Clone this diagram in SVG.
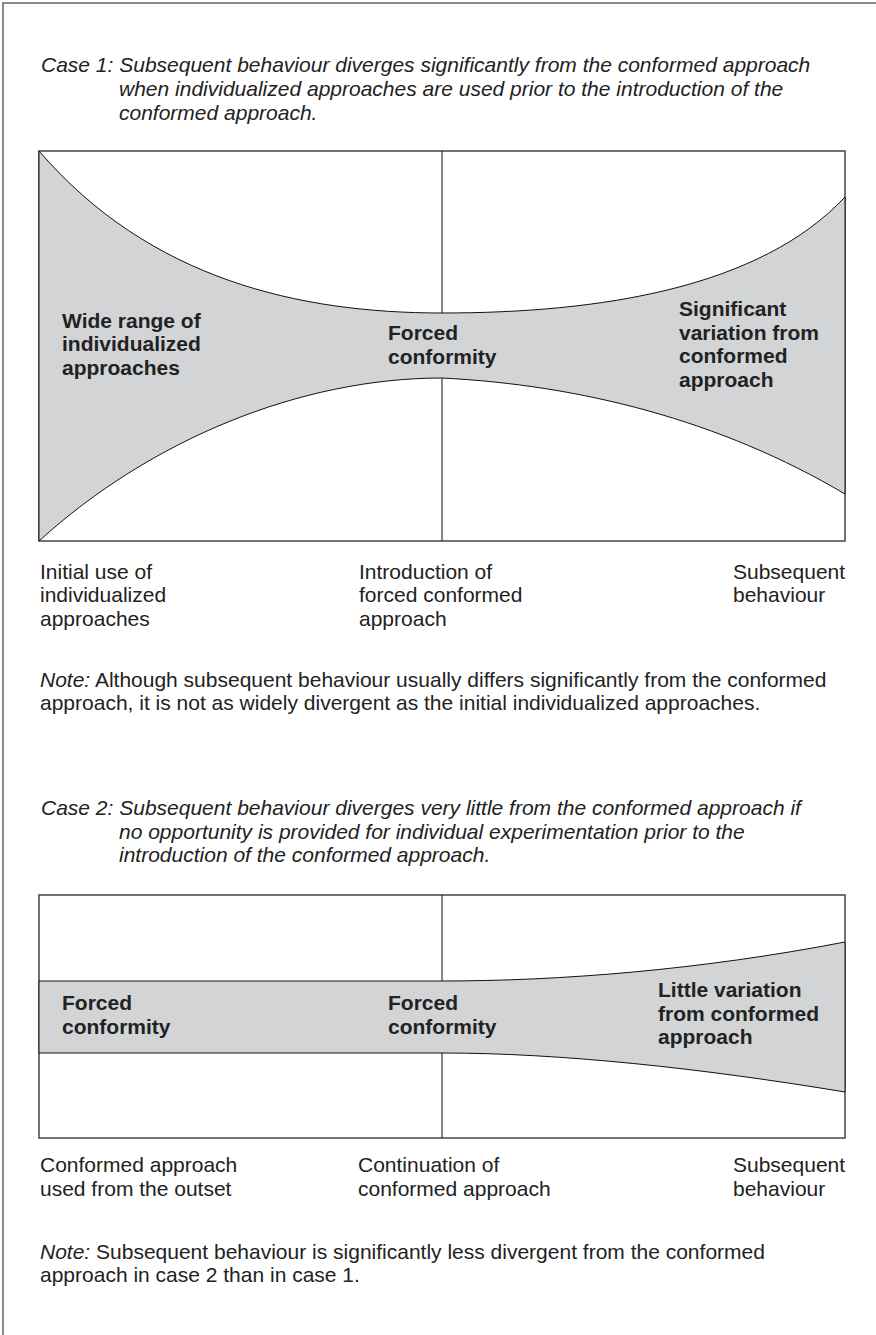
<svg xmlns="http://www.w3.org/2000/svg" width="876" height="1335" viewBox="0 0 876 1335">
<style>
.t{font-family:"Liberation Sans",Arial,Helvetica,sans-serif;font-size:21px;fill:#222}
.i{font-style:italic}
.b{font-weight:bold}
.frame{fill:#fff;stroke:#444;stroke-width:1.5}
.band{fill:#d3d4d6;stroke:#111;stroke-width:1}
.div{stroke:#111;stroke-width:1;fill:none}
.page{stroke:#666;stroke-width:1.5;fill:none}
</style>
<rect width="876" height="1335" fill="#fff"/>
<path class="page" d="M3,1335 L3,3 L876,3"/>

<g id="case1-title">
<text class="t i" x="41" y="72">Case 1: Subsequent behaviour diverges significantly from the conformed approach</text>
<text class="t i" x="119" y="96">when individualized approaches are used prior to the introduction of the</text>
<text class="t i" x="119" y="119.5">conformed approach.</text>
</g>

<g id="chart1">
<rect class="frame" x="39" y="151" width="806" height="390"/>
<g id="connectors1">
<line class="div" x1="442" y1="151" x2="442" y2="541"/>
</g>
<path class="band" d="M39,151 C150,280 300,313 442,313 C600,313 760,288 845,197 L845,494 C720,420 580,385 442,378 C300,378 150,440 39,541 Z"/>
<g id="c1-left"><text class="t b" x="62" y="327.5">Wide range of</text><text class="t b" x="62" y="351">individualized</text><text class="t b" x="62" y="374.5">approaches</text></g>
<g id="c1-mid"><text class="t b" x="388" y="340">Forced</text><text class="t b" x="388" y="363.5">conformity</text></g>
<g id="c1-right"><text class="t b" x="679" y="316">Significant</text><text class="t b" x="679" y="339.5">variation from</text><text class="t b" x="679" y="363">conformed</text><text class="t b" x="679" y="386.5">approach</text></g>
</g>

<g id="case1-axis">
<text class="t" x="40" y="578.5">Initial use of</text>
<text class="t" x="40" y="602">individualized</text>
<text class="t" x="40" y="625.5">approaches</text>
<text class="t" x="359" y="578.5">Introduction of</text>
<text class="t" x="359" y="602">forced conformed</text>
<text class="t" x="359" y="625.5">approach</text>
<text class="t" x="733" y="578.5">Subsequent</text>
<text class="t" x="733" y="602">behaviour</text>
</g>

<g id="note1">
<text class="t" x="40" y="686.5"><tspan class="i">Note:</tspan> Although subsequent behaviour usually differs significantly from the conformed</text>
<text class="t" x="40" y="710">approach, it is not as widely divergent as the initial individualized approaches.</text>
</g>

<g id="case2-title">
<text class="t i" x="41" y="815">Case 2: Subsequent behaviour diverges very little from the conformed approach if</text>
<text class="t i" x="119" y="838.5">no opportunity is provided for individual experimentation prior to the</text>
<text class="t i" x="119" y="862">introduction of the conformed approach.</text>
</g>

<g id="chart2">
<rect class="frame" x="39" y="895" width="806" height="243"/>
<g id="connectors2">
<line class="div" x1="442" y1="895" x2="442" y2="1138"/>
</g>
<path class="band" d="M39,981 L442,981 C560,981 700,970 845,942 L845,1092 C700,1068 560,1053 442,1053 L39,1053 Z"/>
<g id="c2-left"><text class="t b" x="62" y="1010">Forced</text><text class="t b" x="62" y="1033.5">conformity</text></g>
<g id="c2-mid"><text class="t b" x="388" y="1010">Forced</text><text class="t b" x="388" y="1033.5">conformity</text></g>
<g id="c2-right"><text class="t b" x="658" y="997">Little variation</text><text class="t b" x="658" y="1020.5">from conformed</text><text class="t b" x="658" y="1044">approach</text></g>
</g>

<g id="case2-axis">
<text class="t" x="40" y="1172">Conformed approach</text>
<text class="t" x="40" y="1195.5">used from the outset</text>
<text class="t" x="358" y="1172">Continuation of</text>
<text class="t" x="358" y="1195.5">conformed approach</text>
<text class="t" x="733" y="1172">Subsequent</text>
<text class="t" x="733" y="1195.5">behaviour</text>
</g>

<g id="note2">
<text class="t" x="40" y="1258.5"><tspan class="i">Note:</tspan> Subsequent behaviour is significantly less divergent from the conformed</text>
<text class="t" x="40" y="1282">approach in case 2 than in case 1.</text>
</g>
</svg>
